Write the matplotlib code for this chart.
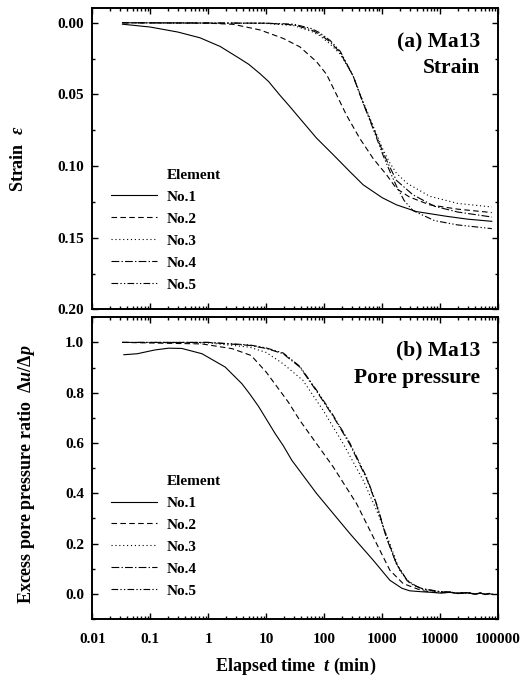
import matplotlib
matplotlib.use("Agg")
import matplotlib.pyplot as plt
from matplotlib.lines import Line2D
from matplotlib.ticker import LogLocator, MultipleLocator, FixedLocator, NullFormatter

plt.rcParams['font.family'] = ['Liberation Serif', 'DejaVu Serif']
plt.rcParams['font.weight'] = 'bold'
plt.rcParams['mathtext.fontset'] = 'custom'
plt.rcParams['mathtext.rm'] = 'Liberation Serif:bold'
plt.rcParams['mathtext.it'] = 'Liberation Serif:italic:bold'
plt.rcParams['mathtext.bf'] = 'Liberation Serif:bold'

labels = ['No.1', 'No.2', 'No.3', 'No.4', 'No.5']

# (a) strain
strain_t = [
    [0.033, 0.1, 0.3, 0.72, 1.6, 3.5, 5, 7.8, 11, 17.2, 25, 38, 74, 143, 277, 470, 1000, 1770, 3900, 12900, 30000, 78000],
    [0.033, 1, 2.7, 7.8, 19.6, 38, 74, 110, 165, 243, 412, 700, 1190, 1770, 2950, 6600, 20000, 78000],
    [0.033, 10, 30, 60, 84, 128, 190, 315, 470, 700, 1050, 1370, 1770, 2700, 6600, 20000, 78000],
    [0.033, 10, 30, 60, 84, 128, 190, 315, 470, 700, 1050, 1370, 1770, 3400, 8000, 20000, 78000],
    [0.033, 10, 30, 60, 84, 128, 190, 315, 470, 700, 1050, 1370, 1770, 2400, 3400, 8000, 20000, 78000],
]
strain_v = [
    [0.001, 0.003, 0.0065, 0.0105, 0.0165, 0.025, 0.029, 0.0355, 0.041, 0.0505, 0.058, 0.0667, 0.0805, 0.092, 0.1038, 0.113, 0.122, 0.127, 0.1317, 0.135, 0.137, 0.1385],
    [0.0, 0.0003, 0.0011, 0.005, 0.0109, 0.0168, 0.0272, 0.036, 0.0505, 0.0645, 0.0807, 0.0947, 0.106, 0.1157, 0.1215, 0.127, 0.130, 0.1324],
    [0.0, 0.0005, 0.002, 0.006, 0.009, 0.015, 0.022, 0.037, 0.055, 0.072, 0.089, 0.098, 0.105, 0.112, 0.121, 0.126, 0.1285],
    [0.0, 0.0003, 0.0015, 0.005, 0.008, 0.0135, 0.021, 0.037, 0.056, 0.073, 0.091, 0.101, 0.110, 0.120, 0.128, 0.132, 0.1355],
    [0.0, 0.0003, 0.001, 0.004, 0.007, 0.0125, 0.020, 0.037, 0.056, 0.074, 0.093, 0.104, 0.114, 0.124, 0.131, 0.138, 0.141, 0.1436],
]

# (b) excess pore pressure ratio
tail_t = [5000, 7000, 10000, 15000, 20000, 30000, 40000, 50000, 60000, 70000, 80000]
pore_t = [
    [0.035, 0.06, 0.072, 0.12, 0.207, 0.35, 0.78, 1.96, 3.8, 5.2, 7.4, 14.3, 19.6, 27.7, 74, 277, 700, 1360, 2200, 3000] + tail_t,
    [0.033, 0.78, 2.6, 5.5, 10, 24, 38, 143, 362, 800, 1360, 2300, 3900] + tail_t,
    [0.033, 1, 5.2, 10, 19.6, 43, 96, 213, 470, 800, 1360, 2000, 3000] + tail_t,
    [0.033, 1, 5.2, 10, 19.6, 38, 74, 143, 277, 536, 800, 1190, 1770, 2700, 3900] + tail_t,
    [0.033, 1, 5.2, 10, 19.6, 38, 74, 143, 277, 536, 800, 1190, 1770, 2700, 3900] + tail_t,
]
pore_v = [
    [0.951, 0.955, 0.959, 0.970, 0.977, 0.976, 0.955, 0.902, 0.836, 0.795, 0.745, 0.637, 0.590, 0.531, 0.399, 0.240, 0.134, 0.054, 0.022, 0.012,
     0.008, 0.006, 0.003, 0.006, 0.001, 0.004, -0.002, 0.003, -0.003, 0.001, -0.002],
    [1.0, 0.994, 0.975, 0.948, 0.882, 0.763, 0.690, 0.505, 0.359, 0.200, 0.094, 0.041, 0.021,
     0.012, 0.008, 0.004, 0.006, 0.002, 0.004, -0.001, 0.003, -0.002, 0.001, -0.002],
    [1.0, 0.998, 0.981, 0.960, 0.915, 0.849, 0.730, 0.597, 0.452, 0.333, 0.200, 0.094, 0.041,
     0.018, 0.012, 0.006, 0.007, 0.002, 0.004, 0.0, 0.003, -0.002, 0.001, -0.002],
    [1.0, 1.0, 0.988, 0.976, 0.955, 0.902, 0.806, 0.706, 0.595, 0.460, 0.355, 0.222, 0.118, 0.052, 0.030,
     0.020, 0.014, 0.008, 0.007, 0.003, 0.004, 0.0, 0.003, -0.002, 0.001, -0.002],
    [1.0, 1.0, 0.990, 0.978, 0.958, 0.905, 0.810, 0.710, 0.600, 0.465, 0.359, 0.226, 0.120, 0.054, 0.030,
     0.020, 0.015, 0.009, 0.007, 0.003, 0.005, 0.0, 0.003, -0.002, 0.002, -0.002],
]

styles = ['-', (0, (5, 3)), (0, (1, 2.5)), (0, (7, 2, 1.2, 2)), (0, (6, 2, 1.2, 2, 1.2, 2))]

fig = plt.figure(figsize=(5.29, 6.82), dpi=100)
ax1 = fig.add_axes([0.1745, 0.5462, 0.7670, 0.4421])
ax2 = fig.add_axes([0.1745, 0.0924, 0.7670, 0.4424])


def style_axis(ax):
    ax.set_xscale('log')
    ax.set_xlim(0.01, 100000)
    ax.xaxis.set_major_locator(LogLocator(base=10, numticks=20))
    ax.xaxis.set_minor_locator(LogLocator(base=10, subs=range(2, 10), numticks=20))
    ax.tick_params(which='both', direction='in', top=True, right=True, width=1.0)
    ax.tick_params(which='major', length=4.5, labelsize=11, pad=6)
    ax.tick_params(which='minor', length=2.2)
    for s in ax.spines.values():
        s.set_linewidth(1.4)


def add_legend(ax, lines, y):
    blank = Line2D([], [], color='none')
    leg = ax.legend([blank] + lines, ['Element'] + labels, loc='upper left',
                    bbox_to_anchor=(0.028, y), frameon=False, fontsize=11,
                    handlelength=3.0, handletextpad=0.65, labelspacing=0.54, borderpad=0)
    for t in leg.get_texts():
        t.set_fontweight('bold')


# (a) Strain
lines1 = []
for t, v, ls in zip(strain_t, strain_v, styles):
    ln, = ax1.plot(t, v, color='black', lw=0.8, linestyle=ls)
    lines1.append(ln)
style_axis(ax1)
ax1.set_ylim(0.20, -0.0103)
ax1.yaxis.set_major_locator(FixedLocator([0.0, 0.05, 0.10, 0.15, 0.20]))
ax1.yaxis.set_minor_locator(FixedLocator([0.025, 0.075, 0.125, 0.175]))
ax1.set_yticklabels(['0.00', '0.05', '0.10', '0.15', '0.20'], fontweight='bold')
ax1.xaxis.set_major_formatter(NullFormatter())
ax1.set_ylabel(r'Strain  $\varepsilon$', fontsize=13, fontweight='bold')
ax1.yaxis.set_label_coords(-0.161, 0.5)
ax1.text(0.955, 0.885, '(a) Ma13', transform=ax1.transAxes, ha='right', va='center',
         fontsize=15.5, fontweight='bold')
ax1.text(0.955, 0.80, 'Strain', transform=ax1.transAxes, ha='right', va='center',
         fontsize=15.5, fontweight='bold')
add_legend(ax1, lines1, 0.494)

# (b) Pore pressure
lines2 = []
for t, v, ls in zip(pore_t, pore_v, styles):
    ln, = ax2.plot(t, v, color='black', lw=0.8, linestyle=ls)
    lines2.append(ln)
style_axis(ax2)
ax2.set_ylim(-0.1, 1.1)
ax2.yaxis.set_minor_locator(MultipleLocator(0.1))
ax2.set_yticks([0.0, 0.2, 0.4, 0.6, 0.8, 1.0])
ax2.set_yticklabels(['0.0', '0.2', '0.4', '0.6', '0.8', '1.0'], fontweight='bold')
ax2.set_xticks([0.01, 0.1, 1, 10, 100, 1000, 10000, 100000])
ax2.set_xticklabels(['0.01', '0.1', '1', '10', '100', '1000', '10000', '100000'], fontweight='bold')
ax2.tick_params(axis='x', which='major', pad=10)
ax2.set_ylabel(r'Excess pore pressure ratio  $\mathit{\Delta u/\Delta p}$', fontsize=13, fontweight='bold')
ax2.yaxis.set_label_coords(-0.136, 0.48)
ax2.set_xlabel(r'Elapsed time  $t$ (min)', fontsize=13, fontweight='bold', labelpad=7)
ax2.text(0.955, 0.89, '(b) Ma13', transform=ax2.transAxes, ha='right', va='center',
         fontsize=15.5, fontweight='bold')
ax2.text(0.955, 0.80, 'Pore pressure', transform=ax2.transAxes, ha='right', va='center',
         fontsize=15.5, fontweight='bold')
add_legend(ax2, lines2, 0.505)

fig.savefig('out.png', dpi=100)
